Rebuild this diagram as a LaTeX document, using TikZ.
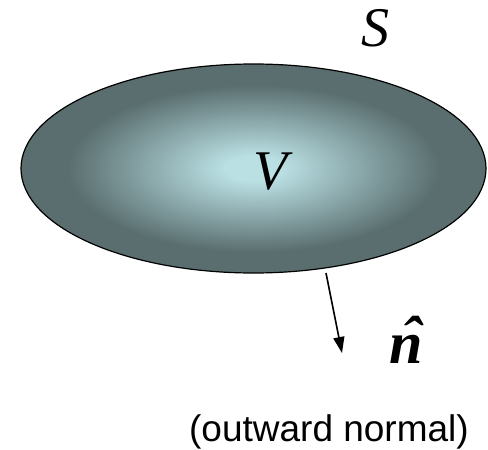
\documentclass[tikz,border=0pt]{standalone}
\usepackage{fontspec}
\setmainfont{Liberation Serif}
\newfontfamily\arialfont{Liberation Sans}
\usetikzlibrary{arrows.meta}
\definecolor{vlight}{RGB}{186,224,228}
\definecolor{vdark}{RGB}{90,110,111}
\pgfdeclareradialshading{volshade}{\pgfpoint{0bp}{0bp}}{color(0bp)=(vlight); color(3bp)=(vlight); color(20bp)=(vdark); color(50bp)=(vdark)}
\newcommand{\raisedhat}[1]{\makebox[0pt][l]{\hspace{0.2em}\raisebox{0.08em}{^^^^02c6}}#1}
\tikzset{
  mathlbl/.style={inner sep=0pt, font=\fontsize{56}{60}\selectfont\itshape},
  hatlbl/.style={inner sep=0pt, font=\fontsize{60}{64}\selectfont\bfseries\itshape},
  plainlbl/.style={inner sep=0pt, font=\arialfont\fontsize{37}{40}\selectfont},
  normalarrow/.style={line width=1.6pt, -{Triangle[length=16pt,width=11pt]}}
}
\begin{document}
\begin{tikzpicture}[x=1pt,y=-1pt]
\useasboundingbox (0,0) rectangle (488,450);
\shade[shading=volshade] (253.5,168.5) ellipse [x radius=232.5, y radius=104.5];
\draw[line width=1.2pt] (253.5,168.5) ellipse [x radius=232.5, y radius=104.5];
\node[mathlbl] (V) at (271,172) {V};
\node[mathlbl] (S) at (375,28) {S};
\coordinate (base) at (326,273);
\coordinate (tip) at (342,353);
\draw[normalarrow] (base) -- (tip);
\node[hatlbl, anchor=base] (n) at (406,363) {\raisedhat{n}};
\node[plainlbl] (lbl) at (329,432) {(outward normal)};
\end{tikzpicture}
\end{document}
